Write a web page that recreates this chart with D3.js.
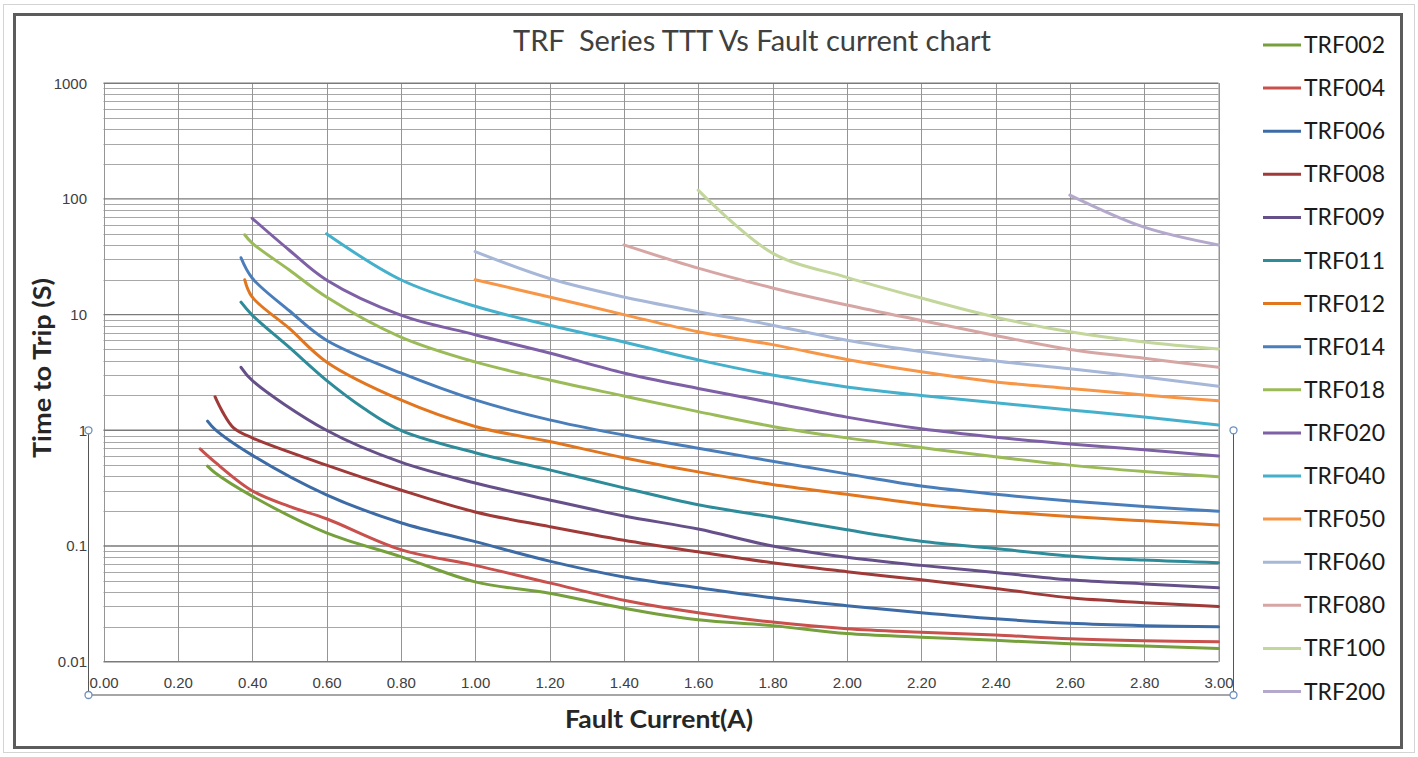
<!DOCTYPE html>
<html>
<head>
<meta charset="utf-8">
<script src="https://cdn.jsdelivr.net/npm/d3@7"></script>
<style>
  body { margin: 0; background: #fff; }
  svg { display: block; }
  .tick text { font-family: "Liberation Sans", Arial, sans-serif; fill: #404040; }
</style>
</head>
<body>
<script>
// series names, in legend order
const seriesNames = ["TRF002","TRF004","TRF006","TRF008","TRF009","TRF011","TRF012","TRF014",
                     "TRF018","TRF020","TRF040","TRF050","TRF060","TRF080","TRF100","TRF200"];
const seriesColors = ["#76a03c","#c8504d","#3c6ba6","#a03a38","#66508a","#2e8b9a","#e2761f","#4a7ebb",
                      "#9bbb59","#7e60a6","#45b0cc","#f79646","#a7b7d8","#d6a6a4","#c3d69b","#b4a9cc"];

// [fault current (A), time to trip (s)]
const trf002 = [[0.28,0.49],[0.30,0.43],[0.40,0.27],[0.60,0.13],[0.80,0.081],[1.0,0.049],[1.2,0.039],[1.4,0.029],[1.6,0.023],[1.8,0.0205],[2.0,0.0175],[2.2,0.0163],[2.4,0.0153],[2.6,0.0143],[2.8,0.0137],[3.0,0.013]];
const trf004 = [[0.26,0.69],[0.30,0.53],[0.40,0.30],[0.50,0.22],[0.60,0.172],[0.80,0.093],[1.0,0.068],[1.2,0.048],[1.4,0.034],[1.6,0.0265],[1.8,0.022],[2.0,0.0193],[2.2,0.018],[2.4,0.017],[2.6,0.0158],[2.8,0.0152],[3.0,0.0149]];
const trf006 = [[0.28,1.2],[0.30,1.02],[0.40,0.61],[0.60,0.277],[0.80,0.159],[1.0,0.109],[1.2,0.074],[1.4,0.054],[1.6,0.0436],[1.8,0.0357],[2.0,0.0305],[2.2,0.0265],[2.4,0.0235],[2.6,0.0215],[2.8,0.0205],[3.0,0.02]];
const trf008 = [[0.30,1.95],[0.32,1.45],[0.35,1.05],[0.40,0.86],[0.60,0.50],[0.80,0.305],[1.0,0.197],[1.2,0.147],[1.4,0.112],[1.6,0.089],[1.8,0.0716],[2.0,0.060],[2.2,0.051],[2.4,0.043],[2.6,0.0357],[2.8,0.0324],[3.0,0.030]];
const trf009 = [[0.37,3.5],[0.40,2.7],[0.60,1.0],[0.80,0.53],[1.0,0.35],[1.2,0.25],[1.4,0.182],[1.6,0.14],[1.8,0.10],[2.0,0.08],[2.2,0.068],[2.4,0.059],[2.6,0.051],[2.8,0.047],[3.0,0.0436]];
const trf011 = [[0.37,12.8],[0.40,9.9],[0.50,5.2],[0.60,2.7],[0.70,1.55],[0.80,1.0],[1.0,0.64],[1.2,0.455],[1.4,0.318],[1.6,0.227],[1.8,0.178],[2.0,0.138],[2.2,0.11],[2.4,0.095],[2.6,0.082],[2.8,0.0755],[3.0,0.0716]];
const trf012 = [[0.38,20],[0.40,14.2],[0.50,7.6],[0.60,3.9],[0.80,1.83],[1.0,1.08],[1.2,0.8],[1.4,0.58],[1.6,0.437],[1.8,0.34],[2.0,0.28],[2.2,0.23],[2.4,0.2],[2.6,0.18],[2.8,0.165],[3.0,0.152]];
const trf014 = [[0.37,31],[0.40,20.7],[0.50,10.8],[0.60,6.0],[0.80,3.13],[1.0,1.83],[1.2,1.23],[1.4,0.91],[1.6,0.7],[1.8,0.54],[2.0,0.42],[2.2,0.33],[2.4,0.28],[2.6,0.245],[2.8,0.22],[3.0,0.20]];
const trf018 = [[0.38,49],[0.40,41.5],[0.50,24.3],[0.60,14.2],[0.80,6.4],[1.0,3.9],[1.2,2.72],[1.4,1.98],[1.6,1.45],[1.8,1.08],[2.0,0.86],[2.2,0.71],[2.4,0.59],[2.6,0.5],[2.8,0.44],[3.0,0.396]];
const trf020 = [[0.40,68],[0.50,36],[0.60,19.9],[0.80,9.9],[1.0,6.7],[1.2,4.66],[1.4,3.13],[1.6,2.3],[1.8,1.73],[2.0,1.3],[2.2,1.03],[2.4,0.87],[2.6,0.76],[2.8,0.68],[3.0,0.60]];
const trf040 = [[0.60,50],[0.80,20],[1.0,11.8],[1.2,8.1],[1.4,5.8],[1.6,4.06],[1.8,3.0],[2.0,2.37],[2.2,2.0],[2.4,1.73],[2.6,1.5],[2.8,1.3],[3.0,1.11]];
const trf050 = [[1.0,20],[1.2,14.2],[1.4,10.0],[1.6,7.1],[1.8,5.5],[2.0,4.1],[2.2,3.2],[2.4,2.62],[2.6,2.3],[2.8,2.02],[3.0,1.8]];
const trf060 = [[1.0,35],[1.2,20.5],[1.4,14.2],[1.6,10.6],[1.8,8.1],[2.0,6.0],[2.2,4.8],[2.4,3.97],[2.6,3.4],[2.8,2.89],[3.0,2.4]];
const trf080 = [[1.4,40],[1.6,25.2],[1.8,17],[2.0,12.1],[2.2,8.9],[2.4,6.6],[2.6,5.0],[2.8,4.2],[3.0,3.5]];
const trf100 = [[1.6,119],[1.8,34],[2.0,21],[2.2,13.9],[2.4,9.5],[2.6,7.1],[2.8,5.8],[3.0,5.05]];
const trf200 = [[2.6,108],[2.8,57],[3.0,40]];
const seriesData = [trf002,trf004,trf006,trf008,trf009,trf011,trf012,trf014,
                    trf018,trf020,trf040,trf050,trf060,trf080,trf100,trf200];

// tick labels
const xTicks = d3.range(0, 16).map(i => i * 0.2);
const yTicks = [0.01, 0.1, 1, 10, 100, 1000];

var W = 1418, H = 757;
var plotLeft = 103.5, plotRight = 1218.5, plotTop = 83.2, plotBottom = 661.7;

var svg = d3.select("body").append("svg").attr("width", W).attr("height", H);

// window edge + chart frame
svg.append("rect").attr("x", 3.5).attr("y", 4.5).attr("width", 1411).attr("height", 748)
   .attr("fill", "none").attr("stroke", "#d4d4d4");
svg.append("rect").attr("x", 14.5).attr("y", 14.5).attr("width", 1387).attr("height", 733)
   .attr("fill", "#fff").attr("stroke", "#5c5c5c").attr("stroke-width", 3);

var x = d3.scaleLinear().domain([0, 3]).range([plotLeft, plotRight]);
var y = d3.scaleLog().domain([0.01, 1000]).range([plotBottom, plotTop]);

// gridlines
var grid = svg.append("g");
grid.selectAll(".hminor").data(y.ticks().filter(d => yTicks.indexOf(d) < 0))
  .enter().append("line")
  .attr("x1", plotLeft).attr("x2", plotRight)
  .attr("y1", d => Math.round(y(d)) + 0.5).attr("y2", d => Math.round(y(d)) + 0.5)
  .attr("stroke", "#a8a8a8").attr("stroke-width", 1);
grid.selectAll(".v").data(xTicks)
  .enter().append("line")
  .attr("x1", d => Math.round(x(d)) + 0.5).attr("x2", d => Math.round(x(d)) + 0.5)
  .attr("y1", plotTop).attr("y2", plotBottom)
  .attr("stroke", "#959595").attr("stroke-width", 1);
grid.selectAll(".hmajor").data(yTicks)
  .enter().append("line")
  .attr("x1", plotLeft).attr("x2", plotRight)
  .attr("y1", d => y(d)).attr("y2", d => y(d))
  .attr("stroke", "#7a7a7a").attr("stroke-width", 1.4);
grid.append("line").attr("x1", plotRight + 0.5).attr("x2", plotRight + 0.5).attr("y1", plotTop).attr("y2", plotBottom)
  .attr("stroke", "#959595");

// axis selection box (as in the screenshot)
var sel = svg.append("g");
sel.append("line").attr("x1", 88.5).attr("x2", 88.5).attr("y1", y(1)).attr("y2", 695)
   .attr("stroke", "#555").attr("stroke-width", 1);
sel.append("line").attr("x1", 1233.5).attr("x2", 1233.5).attr("y1", y(1)).attr("y2", 695)
   .attr("stroke", "#555").attr("stroke-width", 1);
sel.append("line").attr("x1", 88).attr("x2", 1233).attr("y1", 695).attr("y2", 695)
   .attr("stroke", "#a6a6a6").attr("stroke-width", 2);

// axes
var xAxis = d3.axisBottom(x).tickValues(xTicks).tickFormat(d3.format(".2f")).tickSize(0).tickPadding(16);
var gx = svg.append("g").attr("transform", "translate(0," + plotBottom + ")").call(xAxis);
gx.select(".domain").remove();
gx.selectAll("text").attr("font-size", 15);

var yAxis = d3.axisLeft(y).tickValues(yTicks).tickFormat(d3.format("~g")).tickSize(0).tickPadding(0);
var gy = svg.append("g").attr("transform", "translate(87,0)").call(yAxis);
gy.select(".domain").remove();
gy.selectAll("text").attr("font-size", 15);

// curves
var line = d3.line()
  .x(d => x(d[0]))
  .y(d => y(d[1]))
  .curve(d3.curveCatmullRom.alpha(0.5));
svg.append("g").selectAll("path").data(seriesData)
  .enter().append("path")
  .attr("d", line)
  .attr("fill", "none")
  .attr("stroke", (d, i) => seriesColors[i])
  .attr("stroke-width", 3)
  .attr("stroke-linecap", "round");

// selection handles
[[88.5, y(1)], [88.5, 695], [1233.5, y(1)], [1233.5, 695]].forEach(p => {
  sel.append("circle").attr("cx", p[0]).attr("cy", p[1]).attr("r", 3.5)
     .attr("fill", "#fff").attr("stroke", "#6d8fbd").attr("stroke-width", 1.3);
});
sel.raise();

// titles
svg.append("text").attr("x", 752).attr("y", 51).attr("text-anchor", "middle")
   .attr("font-family", "Lato, sans-serif").attr("font-size", 28).attr("fill", "#404040")
   .attr("xml:space", "preserve").attr("textLength", 478).attr("lengthAdjust", "spacingAndGlyphs")
   .text("TRF  Series TTT Vs Fault current chart");
svg.append("text").attr("x", 659).attr("y", 728).attr("text-anchor", "middle")
   .attr("font-family", "Lato, sans-serif").attr("font-weight", "bold").attr("font-size", 25).attr("fill", "#262626")
   .attr("textLength", 188).attr("lengthAdjust", "spacingAndGlyphs")
   .text("Fault Current(A)");
svg.append("text").attr("transform", "translate(51,368) rotate(-90)").attr("text-anchor", "middle")
   .attr("font-family", "Lato, sans-serif").attr("font-weight", "bold").attr("font-size", 25).attr("fill", "#262626")
   .attr("textLength", 180).attr("lengthAdjust", "spacingAndGlyphs")
   .text("Time to Trip (S)");

// legend
var legend = svg.append("g").selectAll("g").data(seriesNames)
  .enter().append("g")
  .attr("transform", (d, i) => "translate(1263," + (45 + i * 43.1) + ")");
legend.append("line").attr("x1", 0).attr("x2", 38).attr("y1", 0).attr("y2", 0)
  .attr("stroke", (d, i) => seriesColors[i]).attr("stroke-width", 3);
legend.append("text").attr("x", 41).attr("y", 8)
  .attr("font-family", "Lato, sans-serif").attr("font-size", 23).attr("fill", "#1a1a1a")
  .text(d => d);
</script>
</body>
</html>
